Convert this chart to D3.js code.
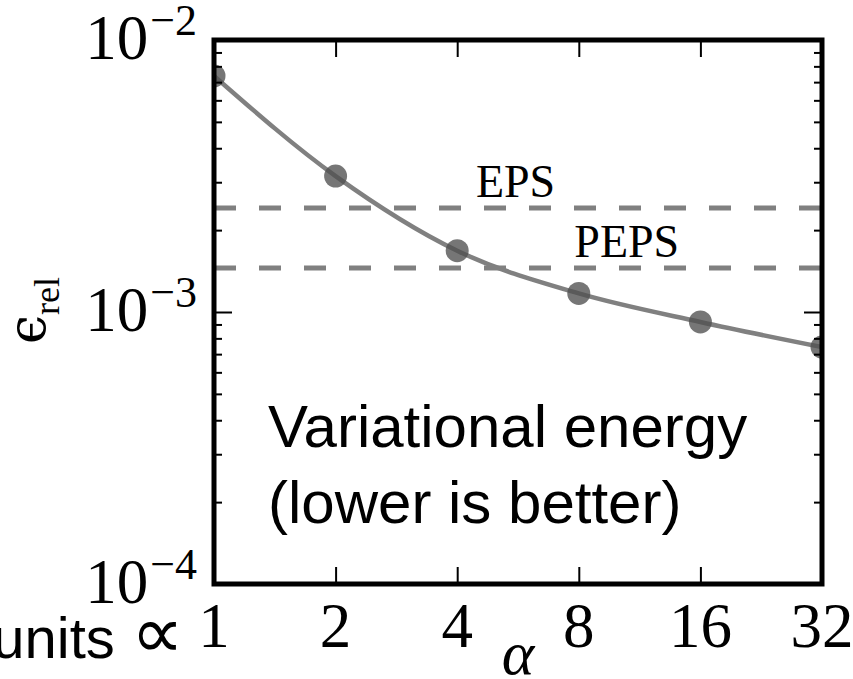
<!DOCTYPE html>
<html>
<head>
<meta charset="utf-8">
<script src="https://cdn.jsdelivr.net/npm/d3@7"></script>
<style>
    body { margin: 0; background: #fff; }
    svg { display: block; }
    .tick line { stroke: #000; stroke-width: 2; }
    .domain { display: none; }
</style>
</head>
<body>
<svg width="853" height="679"></svg>
<script>
// values
const alphaVals = [1, 2, 4, 8, 16, 32];
const errVals = [0.00738, 0.00316, 0.00168, 0.00117, 0.000919, 0.000743];
const refNames = ["EPS", "PEPS"];
const refVals = [0.00241, 0.00145];
const refLabelX = [4.45, 7.8];
const yMajorExps = [-2, -3, -4];
const xTickLabels = ["1", "2", "4", "8", "16", "32"];

const plotLeft = 214, plotRight = 822, plotTop = 40, plotBottom = 584;
const gray = "#808080";

var svg = d3.select("svg");

var x = d3.scaleLog().base(2).domain([1, 32]).range([plotLeft, plotRight]);
var y = d3.scaleLog().domain([1e-4, 1e-2]).range([plotBottom, plotTop]);

var majorY = yMajorExps.map(function (e) { return Math.pow(10, e); });
var minorY = y.ticks().filter(function (v) {
    return Math.abs(Math.log10(v) - Math.round(Math.log10(v))) > 1e-6;
});

// clip for the data marks
svg.append("clipPath").attr("id", "plot")
    .append("rect")
    .attr("x", plotLeft).attr("y", plotTop)
    .attr("width", plotRight - plotLeft).attr("height", plotBottom - plotTop);

var plot = svg.append("g").attr("clip-path", "url(#plot)");

// reference lines
plot.selectAll(".ref")
    .data(refVals)
    .enter().append("line")
    .attr("class", "ref")
    .attr("x1", plotLeft).attr("x2", plotRight)
    .attr("y1", function (d) { return y(d); })
    .attr("y2", function (d) { return y(d); })
    .attr("stroke", gray)
    .attr("stroke-width", 5)
    .attr("stroke-dasharray", "22,23");

var line = d3.line()
    .x(function (d, i) { return x(alphaVals[i]); })
    .y(function (d) { return y(d); })
    .curve(d3.curveMonotoneX);

plot.append("path")
    .datum(errVals)
    .attr("d", line)
    .attr("fill", "none")
    .attr("stroke", gray)
    .attr("stroke-width", 4.5);

plot.selectAll(".dot")
    .data(errVals)
    .enter().append("circle")
    .attr("class", "dot")
    .attr("cx", function (d, i) { return x(alphaVals[i]); })
    .attr("cy", function (d) { return y(d); })
    .attr("r", 11.5)
    .attr("fill", "#505050")
    .attr("fill-opacity", 0.78);

// reference labels
svg.selectAll(".refLabel")
    .data(refNames)
    .enter().append("text")
    .attr("class", "refLabel")
    .attr("x", function (d, i) { return x(refLabelX[i]); })
    .attr("y", function (d, i) { return y(refVals[i]) - 11; })
    .attr("font-family", "Liberation Serif")
    .attr("font-size", 46)
    .text(function (d) { return d; });

// ticks, inward on all sides
function addAxis(axis, tx, ty) {
    svg.append("g")
        .attr("transform", "translate(" + tx + "," + ty + ")")
        .call(axis);
}
addAxis(d3.axisLeft(y).tickValues(minorY).tickSize(-8).tickFormat(""), plotLeft, 0);
addAxis(d3.axisLeft(y).tickValues(majorY).tickSize(-18).tickFormat(""), plotLeft, 0);
addAxis(d3.axisRight(y).tickValues(minorY).tickSize(-8).tickFormat(""), plotRight, 0);
addAxis(d3.axisRight(y).tickValues(majorY).tickSize(-18).tickFormat(""), plotRight, 0);
addAxis(d3.axisBottom(x).tickValues(alphaVals).tickSize(-17).tickFormat(""), 0, plotBottom);
addAxis(d3.axisTop(x).tickValues(alphaVals).tickSize(-17).tickFormat(""), 0, plotTop);

// frame
svg.append("rect")
    .attr("x", plotLeft).attr("y", plotTop)
    .attr("width", plotRight - plotLeft).attr("height", plotBottom - plotTop)
    .attr("fill", "none")
    .attr("stroke", "#000")
    .attr("stroke-width", 5);

// y tick labels 10^e
var yLab = svg.selectAll(".ylab")
    .data(yMajorExps)
    .enter().append("text")
    .attr("class", "ylab")
    .attr("x", 197)
    .attr("y", function (d) { return y(Math.pow(10, d)) + 19; })
    .attr("text-anchor", "end")
    .attr("font-family", "Liberation Serif")
    .attr("font-size", 63);
yLab.append("tspan").text("10");
yLab.append("tspan")
    .attr("dy", -24)
    .attr("dx", 2)
    .attr("font-size", 44)
    .text(function (d) { return "\u2212" + (-d); });

// x tick labels
svg.selectAll(".xlab")
    .data(alphaVals)
    .enter().append("text")
    .attr("class", "xlab")
    .attr("x", function (d) { return x(d); })
    .attr("y", 647)
    .attr("text-anchor", "middle")
    .attr("font-family", "Liberation Serif")
    .attr("font-size", 63)
    .text(function (d, i) { return xTickLabels[i]; });

// axis titles
svg.append("text")
    .attr("x", (plotLeft + plotRight) / 2)
    .attr("y", 674)
    .attr("text-anchor", "middle")
    .attr("font-family", "Liberation Serif")
    .attr("font-style", "italic")
    .attr("font-size", 62)
    .text("\u03b1");

var yTitle = svg.append("text")
    .attr("transform", "translate(45,344) rotate(-90)")
    .attr("font-family", "DejaVu Serif")
    .attr("font-size", 52);
yTitle.append("tspan").text("\u03f5");
yTitle.append("tspan")
    .attr("dy", 14)
    .attr("font-family", "Liberation Serif")
    .attr("font-size", 36)
    .text("rel");

// annotations
var note = svg.append("text")
    .attr("font-family", "Liberation Sans")
    .attr("font-size", 60)
    .attr("fill", "#000");
note.append("tspan").attr("x", 268).attr("y", 447).text("Variational energy");
note.append("tspan").attr("x", 268).attr("y", 523).text("(lower is better)");

var units = svg.append("text")
    .attr("x", 184)
    .attr("y", 658)
    .attr("text-anchor", "end")
    .attr("font-family", "Liberation Sans")
    .attr("font-size", 58);
units.append("tspan").text("units ");
units.append("tspan").attr("font-size", 74).text("\u221d");
</script>
</body>
</html>
